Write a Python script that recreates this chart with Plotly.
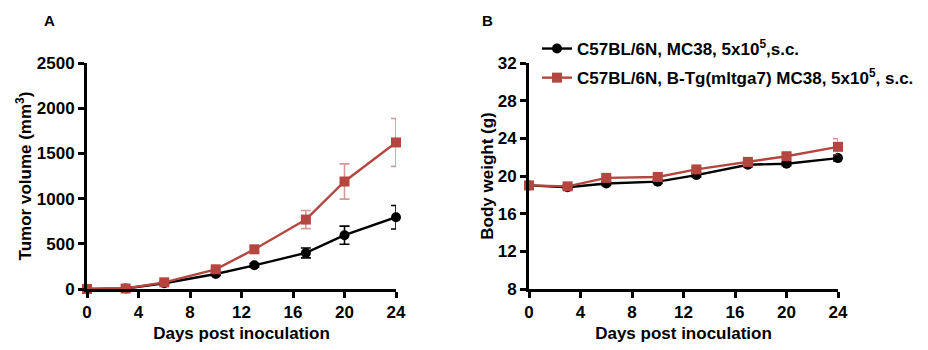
import plotly.graph_objects as go

days = [0, 3, 6, 10, 13, 17, 20, 24]

tumor_wt = [0, 5, 63, 166, 262, 399, 595, 794]
tumor_wt_err = [0, 3, 8, 15, 20, 55, 100, 130]
tumor_tg = [0, 5, 74, 218, 439, 768, 1189, 1621]
tumor_tg_err = [0, 3, 10, 20, 30, 100, 195, 265]

bw_wt = [19.0, 18.8, 19.2, 19.4, 20.1, 21.2, 21.3, 21.9]
bw_wt_err = [0.2, 0.2, 0.2, 0.2, 0.2, 0.2, 0.2, 0.3]
bw_tg = [19.0, 18.9, 19.8, 19.9, 20.7, 21.5, 22.1, 23.1]
bw_tg_err = [0.2, 0.2, 0.2, 0.2, 0.2, 0.2, 0.3, 0.85]

name_wt = "C57BL/6N, MC38, 5x10<sup>5</sup>,s.c."
name_tg = "C57BL/6N, B-Tg(mltga7) MC38, 5x10<sup>5</sup>, s.c."

x_ticks = [0, 4, 8, 12, 16, 20, 24]
tumor_ticks = [0, 500, 1000, 1500, 2000, 2500]
bw_ticks = [8, 12, 16, 20, 24, 28, 32]

BLACK = "#000000"
RED = "#b5463f"
RED_ERR = "rgba(181,70,63,0.55)"
FONT = "Liberation Sans, Arial, sans-serif"

fig = go.Figure()

def add(x, y, err, name, color, ecolor, symbol, xa, ya, show, group):
    fig.add_trace(go.Scatter(
        x=x, y=y, name=name, mode="lines+markers",
        line=dict(color=color, width=2.4),
        marker=dict(symbol=symbol, size=10, color=color),
        error_y=dict(type="data", array=err, visible=True, color=ecolor,
                     thickness=1.6, width=5),
        xaxis=xa, yaxis=ya, showlegend=show, cliponaxis=False,
        legendgroup=group,
    ))

add(days, tumor_wt, tumor_wt_err, name_wt, BLACK, BLACK, "circle", "x", "y", False, "wt")
add(days, tumor_tg, tumor_tg_err, name_tg, RED, RED_ERR, "square", "x", "y", False, "tg")
add(days, bw_wt, bw_wt_err, name_wt, BLACK, BLACK, "circle", "x2", "y2", True, "wt")
add(days, bw_tg, bw_tg_err, name_tg, RED, RED_ERR, "square", "x2", "y2", True, "tg")

W, H = 928, 350
yd = [(H - 289) / H, (H - 63) / H]

axis_common = dict(
    showline=True, linewidth=3, linecolor="black", mirror=False,
    ticks="outside", ticklen=6, tickwidth=3, tickcolor="black",
    showgrid=False, zeroline=False, automargin=False,
    tickfont=dict(family=FONT, size=17, color="black", weight="bold"),
)

def title(t, s=6):
    return dict(text=t, standoff=s, font=dict(family=FONT, size=17, weight="bold"))

fig.update_layout(
    width=W, height=H,
    margin=dict(l=0, r=0, t=0, b=0, autoexpand=False),
    plot_bgcolor="white", paper_bgcolor="white",
    font=dict(family=FONT, color="black"),
    xaxis=dict(domain=[87 / W, 396 / W], range=[0, 24], tickvals=x_ticks,
               anchor="y", title=title("Days post inoculation"), **axis_common),
    yaxis=dict(domain=yd, range=[0, 2500], tickvals=tumor_ticks, anchor="x",
               title=title("Tumor volume (mm<sup>3</sup>)", 1), **axis_common),
    xaxis2=dict(domain=[529 / W, 838 / W], range=[0, 24], tickvals=x_ticks,
                anchor="y2", title=title("Days post inoculation"), **axis_common),
    yaxis2=dict(domain=yd, range=[8, 32], tickvals=bw_ticks, anchor="x2",
                title=title("Body weight (g)", 0), **axis_common),
    legend=dict(x=537 / W, y=(H - 31) / H, xanchor="left", yanchor="top",
                bgcolor="rgba(0,0,0,0)", tracegroupgap=4,
                font=dict(family=FONT, size=17, color="black", weight="bold"),
                itemwidth=30),
    annotations=[
        dict(text="A", x=49 / W, y=(H - 20) / H, xref="paper", yref="paper",
             xanchor="center", yanchor="middle",
             showarrow=False, font=dict(family=FONT, size=15, weight="bold")),
        dict(text="B", x=487 / W, y=(H - 20) / H, xref="paper", yref="paper",
             xanchor="center", yanchor="middle",
             showarrow=False, font=dict(family=FONT, size=15, weight="bold")),
    ],
)

fig.write_html("out.html")
